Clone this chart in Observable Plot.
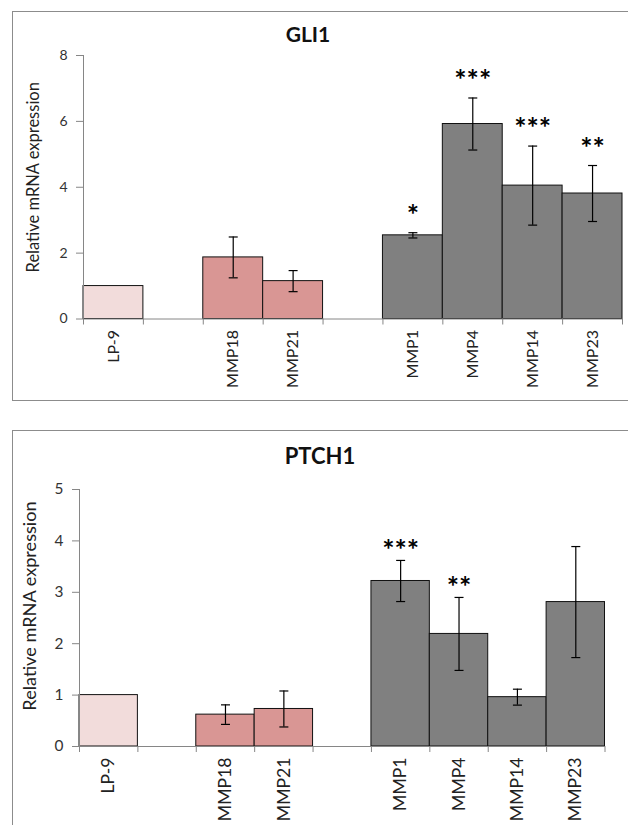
<!DOCTYPE html>
<html>
<head>
<meta charset="utf-8">
<script src="https://cdn.jsdelivr.net/npm/d3@7"></script>
<script src="https://cdn.jsdelivr.net/npm/@observablehq/plot@0.6"></script>
<style>
  html, body { margin: 0; padding: 0; background: #fff; }
  body { width: 628px; height: 825px; position: relative; overflow: hidden; font-family: Lato, "Liberation Sans", sans-serif; }
  .frame { position: absolute; border: 1px solid #8c8c8c; box-sizing: border-box; }
  .title { position: absolute; font-weight: bold; font-size: 21px; color: #111; transform: translate(-50%, -50%); white-space: nowrap; }
  .panel { position: absolute; left: 0; }
</style>
</head>
<body>
<div class="frame" style="left:12px; top:11px; width:640px; height:390px;"></div>
<div class="frame" style="left:12px; top:430px; width:640px; height:420px;"></div>
<div class="title" style="left:308px; top:33px;">GLI1</div>
<div class="title" style="left:320px; top:455px; font-size:22px;">PTCH1</div>
<div id="p1" class="panel" style="top:0px;"></div>
<div id="p2" class="panel" style="top:410px;"></div>
<script>
// ---- data ----
const categories = ["LP-9", "MMP18", "MMP21", "MMP1", "MMP4", "MMP14", "MMP23"];
const groups     = ["control", "low", "low", "high", "high", "high", "high"];
const groupColors = { control: "#f2dcdb", low: "#d99694", high: "#808080" };

const gli1Mean = [1.0, 1.87, 1.15, 2.54, 5.92, 4.05, 3.81];
const gli1Err  = [0, 0.62, 0.32, 0.08, 0.79, 1.20, 0.85];
const gli1Sig  = ["", "", "", "*", "***", "***", "**"];
const gli1Ticks = [0, 2, 4, 6, 8];

const ptch1Mean = [1.0, 0.62, 0.73, 3.22, 2.19, 0.96, 2.81];
const ptch1Err  = [0, 0.19, 0.35, 0.40, 0.71, 0.155, 1.08];
const ptch1Sig  = ["", "", "", "***", "**", "", ""];
const ptch1Ticks = [0, 1, 2, 3, 4, 5];

const yLabel = "Relative mRNA expression";

// slot index: a blank slot separates groups
function buildRows(means, errs, sigs) {
  let slot = 0;
  return categories.map((name, i) => {
    if (i > 0 && groups[i] !== groups[i - 1]) slot += 1;
    const row = { name, s: slot, v: means[i], e: errs[i], sig: sigs[i], c: groupColors[groups[i]] };
    slot += 1;
    return row;
  });
}

const capSymbol = {
  draw(ctx, size) {
    const w = Math.sqrt(size / Math.PI);
    ctx.moveTo(-w, 0);
    ctx.lineTo(w, 0);
  }
};

function panel({ means, errs, sigs, ticks, height, marginLeft, marginRight, marginTop, marginBottom, starDy, labelDy, fs }) {
  const rows = buildRows(means, errs, sigs);
  const nSlots = rows[rows.length - 1].s + 1;
  const ymax = ticks[ticks.length - 1];
  const errRows = rows.filter(d => d.e > 0);
  const sigRows = rows.filter(d => d.sig);
  const nameAt = new Map(rows.map(d => [d.s + 0.5, d.name]));
  const axisColor = "#868686";
  return Plot.plot({
    width: 628, height, marginLeft, marginRight, marginTop, marginBottom,
    style: { fontFamily: "Lato, 'Liberation Sans', sans-serif", background: "transparent", overflow: "visible" },
    x: { domain: [0, nSlots], axis: null, label: null },
    y: { domain: [0, ymax], axis: null, label: null },
    color: { type: "identity" },
    marks: [
      Plot.rectY(rows, { x1: "s", x2: d => d.s + 1, y1: 0, y2: "v", fill: "c", stroke: "#111", strokeWidth: 1 }),
      Plot.ruleY([0], { stroke: axisColor, strokeWidth: 1 }),
      Plot.ruleX([0], { y1: 0, y2: ymax, stroke: axisColor, strokeWidth: 1 }),
      Plot.axisY({ ticks, label: null, tickSize: 7, tickPadding: 9, fontSize: 14 * fs, stroke: axisColor, fill: "#333", tickFormat: d3.format("d") }),
      Plot.axisX({ ticks: d3.range(nSlots + 1), label: null, tickFormat: () => "", tickSize: 6, stroke: axisColor }),
      Plot.axisX({ ticks: rows.map(d => d.s + 0.5), label: null, tickFormat: t => nameAt.get(t), tickSize: 0, tickPadding: 11, tickRotate: -90, fontSize: 16 * fs, fill: "#222" }),
      Plot.ruleX(errRows, { x: d => d.s + 0.5, y1: d => d.v - d.e, y2: d => d.v + d.e, stroke: "#000", strokeWidth: 1.2 }),
      Plot.dot(errRows.flatMap(d => [{ s: d.s, y: d.v - d.e }, { s: d.s, y: d.v + d.e }]), { x: d => d.s + 0.5, y: "y", symbol: capSymbol, r: 4.5, stroke: "#000", strokeWidth: 1.2, fill: "none" }),
      Plot.text(sigRows, { x: d => d.s + 0.5, y: d => d.v + d.e, text: "sig", dy: starDy, fontSize: 29, fontWeight: "bold", fill: "#000" }),
      Plot.text([yLabel], { frameAnchor: "left", textAnchor: "middle", rotate: -90, dx: -50 + (fs - 1) * 4, dy: labelDy, fontSize: 16.5 * fs, fill: "#222" })
    ]
  });
}

document.getElementById("p1").appendChild(panel({
  means: gli1Mean, errs: gli1Err, sigs: gli1Sig, ticks: gli1Ticks,
  height: 410, marginLeft: 83, marginRight: 6, marginTop: 55, marginBottom: 91.5, starDy: -17, labelDy: -10, fs: 1
}));
document.getElementById("p2").appendChild(panel({
  means: ptch1Mean, errs: ptch1Err, sigs: ptch1Sig, ticks: ptch1Ticks,
  height: 415, marginLeft: 79, marginRight: 23.5, marginTop: 79, marginBottom: 79, starDy: -10, labelDy: -12, fs: 1.1
}));
</script>
</body>
</html>
